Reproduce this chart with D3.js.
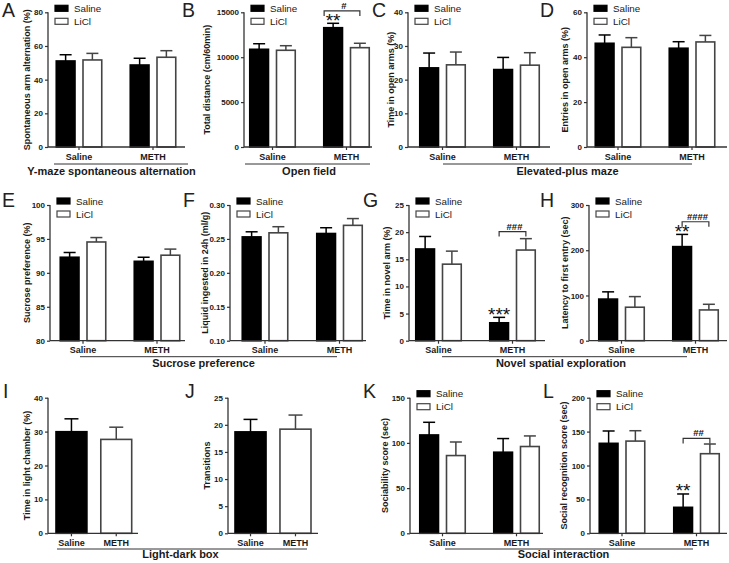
<!DOCTYPE html>
<html><head><meta charset="utf-8">
<script src="https://cdn.jsdelivr.net/npm/d3@7"></script>
<style>body{margin:0;background:#fff}svg{display:block}</style>
</head><body><svg id="fig" width="729" height="563"></svg>
<script>
// ---------------- data ----------------
const groups = ["Saline", "METH"];
const treatments = ["Saline", "LiCl"];

const yMazeSaline = [51.1, 48.7],   yMazeSalineSem = [3.7, 4.0];
const yMazeLiCl   = [51.7, 53.3],   yMazeLiClSem   = [3.9, 3.9];
const openSaline  = [10880, 13285], openSalineSem  = [620, 490];
const openLiCl    = [10770, 11060], openLiClSem    = [510, 490];
const epmTimeSaline = [23.5, 23.0], epmTimeSalineSem = [4.4, 3.6];
const epmTimeLiCl   = [24.4, 24.3], epmTimeLiClSem   = [3.8, 3.7];
const epmEntSaline  = [46.2, 44.0], epmEntSalineSem  = [3.7, 2.9];
const epmEntLiCl    = [44.4, 46.8], epmEntLiClSem    = [4.3, 2.9];
const sucroseSaline = [92.3, 91.7], sucroseSalineSem = [0.7, 0.6];
const sucroseLiCl   = [94.55, 92.6], sucroseLiClSem  = [0.65, 0.9];
const liquidSaline  = [0.253, 0.258], liquidSalineSem = [0.0075, 0.0085];
const liquidLiCl    = [0.259, 0.270], liquidLiClSem   = [0.009, 0.010];
const novelTimeSaline = [16.9, 3.3], novelTimeSalineSem = [2.3, 1.0];
const novelTimeLiCl   = [14.1, 16.7], novelTimeLiClSem  = [2.4, 2.1];
const latencySaline = [92, 208], latencySalineSem = [16, 27];
const latencyLiCl   = [74, 68],  latencyLiClSem   = [23.5, 12.5];
const lightTime = [29.97, 27.7], lightTimeSem = [3.8, 3.6];
const transitions = [18.7, 19.2], transitionsSem = [2.3, 2.6];
const sociabSaline = [108.8, 89.7], sociabSalineSem = [14, 15.1];
const sociabLiCl   = [86, 96],      sociabLiClSem   = [15, 11.7];
const recogSaline  = [132.7, 38.3], recogSalineSem  = [18.2, 19.7];
const recogLiCl    = [136, 117.4],  recogLiClSem    = [15.3, 14.3];

const ticksA = [0, 20, 40, 60, 80];
const ticksB = [0, 5000, 10000, 15000];
const ticksC = [0, 10, 20, 30, 40];
const ticksD = [0, 20, 40, 60];
const ticksE = [80, 85, 90, 95, 100];
const ticksF = [0.10, 0.15, 0.20, 0.25, 0.30];
const ticksG = [0, 5, 10, 15, 20, 25];
const ticksH = [0, 100, 200, 300];
const ticksI = [0, 10, 20, 30, 40];
const ticksJ = [0, 5, 10, 15, 20, 25];
const ticksK = [0, 50, 100, 150];
const ticksL = [0, 50, 100, 150, 200];

const panels = [
  {id:"A", ylab:"Spontaneous arm alternation (%)", domain:[0,80], ticks:ticksA, fmt:d3.format("d"),
   series:[[yMazeSaline,yMazeSalineSem],[yMazeLiCl,yMazeLiClSem]]},
  {id:"B", ylab:"Total distance (cm/60min)", domain:[0,15000], ticks:ticksB, fmt:d3.format("d"),
   series:[[openSaline,openSalineSem],[openLiCl,openLiClSem]]},
  {id:"C", ylab:"Time in open arms (%)", domain:[0,40], ticks:ticksC, fmt:d3.format("d"),
   series:[[epmTimeSaline,epmTimeSalineSem],[epmTimeLiCl,epmTimeLiClSem]]},
  {id:"D", ylab:"Entries in open arms (%)", domain:[0,60], ticks:ticksD, fmt:d3.format("d"),
   series:[[epmEntSaline,epmEntSalineSem],[epmEntLiCl,epmEntLiClSem]]},
  {id:"E", ylab:"Sucrose preference (%)", domain:[80,100], ticks:ticksE, fmt:d3.format("d"),
   series:[[sucroseSaline,sucroseSalineSem],[sucroseLiCl,sucroseLiClSem]]},
  {id:"F", ylab:"Liquid ingested in 24h (ml/g)", domain:[0.10,0.30], ticks:ticksF, fmt:d3.format(".2f"),
   series:[[liquidSaline,liquidSalineSem],[liquidLiCl,liquidLiClSem]]},
  {id:"G", ylab:"Time in novel arm (%)", domain:[0,25], ticks:ticksG, fmt:d3.format("d"),
   series:[[novelTimeSaline,novelTimeSalineSem],[novelTimeLiCl,novelTimeLiClSem]]},
  {id:"H", ylab:"Latency to first entry (sec)", domain:[0,300], ticks:ticksH, fmt:d3.format("d"),
   series:[[latencySaline,latencySalineSem],[latencyLiCl,latencyLiClSem]]},
  {id:"I", ylab:"Time in light chamber (%)", domain:[0,40], ticks:ticksI, fmt:d3.format("d"),
   single:[lightTime, lightTimeSem]},
  {id:"J", ylab:"Transitions", domain:[0,25], ticks:ticksJ, fmt:d3.format("d"),
   single:[transitions, transitionsSem]},
  {id:"K", ylab:"Sociability score (sec)", domain:[0,150], ticks:ticksK, fmt:d3.format("d"),
   series:[[sociabSaline,sociabSalineSem],[sociabLiCl,sociabLiClSem]]},
  {id:"L", ylab:"Social recognition score (sec)", domain:[0,200], ticks:ticksL, fmt:d3.format("d"),
   series:[[recogSaline,recogSalineSem],[recogLiCl,recogLiClSem]]}
];

const stars = [
  {panel:"B", group:"METH", s:0, text:"**"},
  {panel:"G", group:"METH", s:0, text:"***"},
  {panel:"H", group:"METH", s:0, text:"**"},
  {panel:"L", group:"METH", s:0, text:"**"}
];
const brackets = [
  {panel:"B", group:"METH", y:15150, text:"#",    dl:-9},
  {panel:"G", group:"METH", y:20.1,  text:"###",  dl:0},
  {panel:"H", group:"METH", y:263,   text:"####", dl:0},
  {panel:"L", group:"METH", y:140,   text:"##",   dl:0}
];
const sections = [
  {text:"Y-maze spontaneous alternation", row:0, x0:54,  x1:188, cx:111.5},
  {text:"Open field",                     row:0, x0:245, x1:370, cx:309},
  {text:"Elevated-plus maze",             row:0, x0:443, x1:692, cx:567.5},
  {text:"Sucrose preference",             row:1, x0:80,  x1:337, cx:203.5},
  {text:"Novel spatial exploration",      row:1, x0:442, x1:687, cx:561},
  {text:"Light-dark box",                 row:2, x0:57,  x1:307, cx:180.5},
  {text:"Social interaction",             row:2, x0:445, x1:693, cx:563.5}
];

// ---------------- layout ----------------
const rows = [
  {top:12.3, bot:147,   labelY:160, lineY:164,   titleY:175, letterY:17},
  {top:205,  bot:340.7, labelY:353, lineY:356.7, titleY:367, letterY:207},
  {top:397.7,bot:533.3, labelY:546, lineY:549,   titleY:558, letterY:398}
];
const layout = {
  A:{row:0, ax:48,  right:185, c:[79,153],      tOff:21,   lx:2},
  B:{row:0, ax:244, right:372, c:[272.5,346.5], tOff:37,   lx:182},
  C:{row:0, ax:408, right:550, c:[442.5,516.5], tOff:17.5, lx:372},
  D:{row:0, ax:587, right:727, c:[618,692],     tOff:22,   lx:540},
  E:{row:1, ax:50,  right:185, c:[83,157],      tOff:23,   lx:2},
  F:{row:1, ax:230, right:366, c:[265,339.5],   tOff:25,   lx:183},
  G:{row:1, ax:409, right:545, c:[438.5,512.5], tOff:22,   lx:363},
  H:{row:1, ax:589, right:727, c:[621.5,695.5], tOff:24,   lx:540},
  I:{row:2, ax:48,  right:138, band:[56,131.7], tOff:21,   lx:3},
  J:{row:2, ax:228, right:318, band:[235,311],  tOff:21,   lx:185},
  K:{row:2, ax:410, right:543, c:[442.5,516.5], tOff:25,   lx:363},
  L:{row:2, ax:590, right:727, c:[622,696.5],   tOff:26,   lx:543}
};

const FONT = "'Liberation Sans', Arial, Helvetica, sans-serif";
const AX = "#333", TXT = "#1a1a1a", WSTROKE = "#444";
const svg = d3.select("#fig").style("font-family", FONT);
svg.append("rect").attr("width",729).attr("height",563).attr("fill","#fff");

const scales = {};

panels.forEach(p => {
  const L = layout[p.id], R = rows[L.row];
  const g = svg.append("g");
  const y = d3.scaleLinear().domain(p.domain).range([R.bot, R.top]);
  scales[p.id] = {y, L};

  // y axis
  const yAxis = d3.axisLeft(y).tickValues(p.ticks).tickFormat(p.fmt).tickSize(3).tickPadding(2);
  const ya = g.append("g").attr("transform", `translate(${L.ax},0)`).call(yAxis);
  ya.select(".domain").attr("stroke", AX).attr("stroke-width", 1.3).attr("d", `M0,${R.top}V${R.bot}`);
  ya.selectAll(".tick line").attr("stroke", AX).attr("stroke-width", 1.2);
  ya.selectAll(".tick text").attr("fill", TXT).style("font-size","8px").style("font-weight","bold").style("font-family", FONT);

  // x scale(s)
  let xCenter;
  if (p.single) {
    const xb = d3.scaleBand().domain(groups).range(L.band).paddingInner(0.31).paddingOuter(0);
    xCenter = d => xb(d) + xb.bandwidth()/2;
    g.selectAll("rect.bar").data(groups).join("rect")
      .attr("x", d => xb(d)).attr("width", xb.bandwidth())
      .attr("y", (d,i) => y(p.single[0][i])).attr("height", (d,i) => y(p.domain[0]) - y(p.single[0][i]))
      .attr("fill", (d,i) => i === 0 ? "#000" : "#fff")
      .attr("stroke", (d,i) => i === 0 ? "#000" : WSTROKE).attr("stroke-width", 1.6);
    groups.forEach((d,i) => {
      const cx = xCenter(d), col = i === 0 ? "#000" : WSTROKE;
      const yt = y(p.single[0][i]), ye = y(p.single[0][i] + p.single[1][i]);
      g.append("line").attr("x1",cx).attr("x2",cx).attr("y1",yt).attr("y2",ye).attr("stroke",col).attr("stroke-width",1.5);
      g.append("line").attr("x1",cx-7).attr("x2",cx+7).attr("y1",ye).attr("y2",ye).attr("stroke",col).attr("stroke-width",1.5);
    });
  } else {
    const xg = d3.scalePoint().domain(groups).range(L.c);
    const xs = d3.scaleBand().domain(treatments).range([-22.75, 22.75]).paddingInner(8/26.75).paddingOuter(0);
    xCenter = d => xg(d);
    scales[p.id].xg = xg; scales[p.id].xs = xs;
    treatments.forEach((t, si) => {
      const [vals, sems] = p.series[si];
      const col = si === 0 ? "#000" : WSTROKE;
      g.selectAll(`rect.s${si}`).data(groups).join("rect").attr("class", `s${si}`)
        .attr("x", d => xg(d) + xs(t)).attr("width", xs.bandwidth())
        .attr("y", (d,i) => y(vals[i])).attr("height", (d,i) => y(p.domain[0]) - y(vals[i]))
        .attr("fill", si === 0 ? "#000" : "#fff").attr("stroke", col).attr("stroke-width", 1.6);
      groups.forEach((d,i) => {
        const cx = xg(d) + xs(t) + xs.bandwidth()/2;
        const yt = y(vals[i]), ye = y(vals[i] + sems[i]);
        g.append("line").attr("x1",cx).attr("x2",cx).attr("y1",yt).attr("y2",ye).attr("stroke",col).attr("stroke-width",1.5);
        g.append("line").attr("x1",cx-6).attr("x2",cx+6).attr("y1",ye).attr("y2",ye).attr("stroke",col).attr("stroke-width",1.5);
      });
    });
    // legend
    const lg = g.append("g");
    treatments.forEach((t, si) => {
      const ry = R.top - 7 + si * 13;
      lg.append("rect").attr("x", L.ax + 7).attr("y", ry).attr("width", 13).attr("height", 6)
        .attr("fill", si === 0 ? "#000" : "#fff").attr("stroke", si === 0 ? "#000" : WSTROKE).attr("stroke-width", 1.2);
      lg.append("text").attr("x", L.ax + 26).attr("y", ry + 6.5).text(t)
        .attr("fill", TXT).style("font-size", "9.8px");
    });
  }

  // x axis
  const xa = g.append("g");
  xa.append("line").attr("x1", L.ax).attr("x2", L.right).attr("y1", R.bot).attr("y2", R.bot)
    .attr("stroke", AX).attr("stroke-width", 1.3);
  groups.forEach(d => {
    const cx = xCenter(d);
    xa.append("line").attr("x1",cx).attr("x2",cx).attr("y1",R.bot).attr("y2",R.bot+3).attr("stroke",AX).attr("stroke-width",1.2);
    xa.append("text").attr("x",cx).attr("y",R.labelY).attr("text-anchor","middle").text(d)
      .attr("fill",TXT).style("font-size","9px").style("font-weight","bold");
  });

  // y title
  const ymid = (R.top + R.bot) / 2;
  g.append("text").attr("transform", `translate(${L.ax - L.tOff},${ymid}) rotate(-90)`)
    .attr("text-anchor","middle").attr("dy","0.35em").text(p.ylab)
    .attr("fill",TXT).style("font-size","9px").style("font-weight","bold");

  // panel letter
  svg.append("text").attr("x", L.lx).attr("y", R.letterY).text(p.id)
    .attr("fill","#222").style("font-size","19.5px");
});

// significance stars
stars.forEach(s => {
  const sc = scales[s.panel], p = panels.find(q => q.id === s.panel);
  const [vals, sems] = p.series[s.s];
  const i = groups.indexOf(s.group);
  const cx = sc.xg(s.group) + sc.xs(treatments[s.s]) + sc.xs.bandwidth()/2;
  const ye = sc.y(vals[i] + sems[i]);
  svg.append("text").attr("x", cx).attr("y", ye + 3.5).attr("text-anchor","middle").text(s.text)
    .attr("fill","#111").style("font-size","19px");
});

// brackets
brackets.forEach(b => {
  const sc = scales[b.panel];
  const x0 = sc.xg(b.group) + sc.xs(treatments[0]) + sc.xs.bandwidth()/2 + b.dl;
  const x1 = sc.xg(b.group) + sc.xs(treatments[1]) + sc.xs.bandwidth()/2;
  const yb = sc.y(b.y);
  svg.append("path").attr("d", `M${x0},${yb+5}V${yb}H${x1}V${yb+5}`)
    .attr("fill","none").attr("stroke","#333").attr("stroke-width",1.2);
  svg.append("text").attr("x", (x0+x1)/2 + 2).attr("y", yb - 2).attr("text-anchor","middle").text(b.text)
    .attr("fill","#111").style("font-size","9.5px").style("font-weight","bold");
});

// section lines and titles
sections.forEach(s => {
  const R = rows[s.row];
  svg.append("line").attr("x1", s.x0).attr("x2", s.x1).attr("y1", R.lineY).attr("y2", R.lineY)
    .attr("stroke","#333").attr("stroke-width",1);
  svg.append("text").attr("x", s.cx).attr("y", R.titleY).attr("text-anchor","middle").text(s.text)
    .attr("fill",TXT).style("font-size","11px").style("font-weight","bold");
});
</script></body></html>
